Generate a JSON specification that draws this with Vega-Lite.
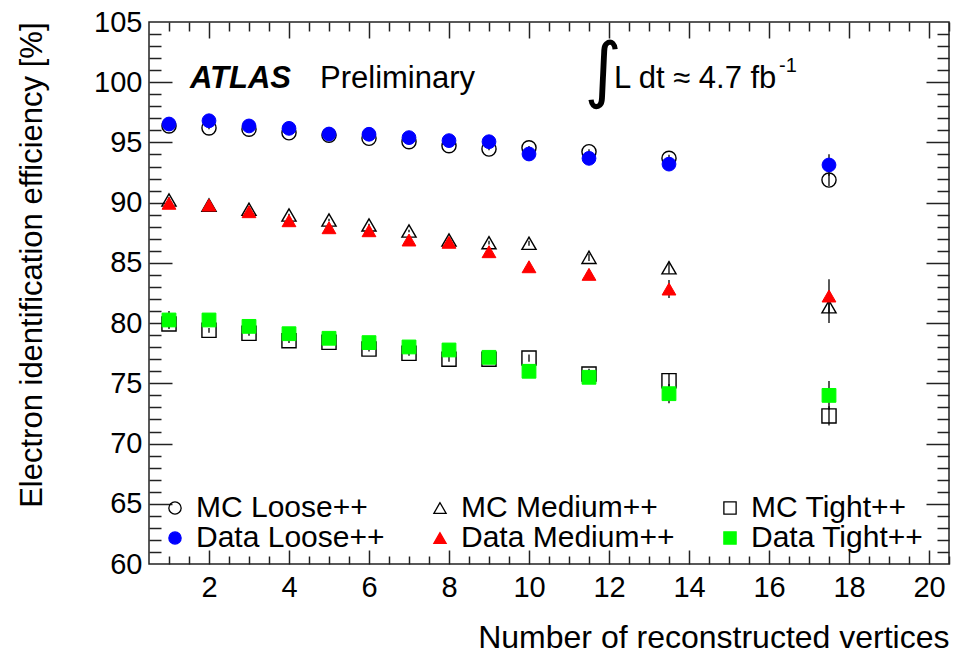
{
  "$schema": "https://vega.github.io/schema/vega-lite/v6.json",
  "width": 800,
  "height": 542,
  "autosize": "none",
  "padding": {"left": 149, "top": 22, "right": 12, "bottom": 93},
  "background": "white",
  "config": {
    "view": {"stroke": "#222", "strokeWidth": 1.5},
    "axis": {"grid": false, "domain": false, "tickColor": "#222", "tickWidth": 1.5, "labelFont": "Liberation Sans", "titleFont": "Liberation Sans", "labelColor": "black", "titleColor": "black", "titleFontWeight": "normal", "labelFlush": false, "labelOverlap": false},
    "legend": {"labelFont": "Liberation Sans"},
    "text": {"font": "Liberation Sans", "color": "black"}
  },
  "data": {"values": [
    {"x": 1, "series": "MC Loose++", "v": 96.37, "err": 0.1},
    {"x": 2, "series": "MC Loose++", "v": 96.2, "err": 0.1},
    {"x": 3, "series": "MC Loose++", "v": 96.1, "err": 0.1},
    {"x": 4, "series": "MC Loose++", "v": 95.8, "err": 0.1},
    {"x": 5, "series": "MC Loose++", "v": 95.6, "err": 0.1},
    {"x": 6, "series": "MC Loose++", "v": 95.34, "err": 0.1},
    {"x": 7, "series": "MC Loose++", "v": 95.06, "err": 0.1},
    {"x": 8, "series": "MC Loose++", "v": 94.73, "err": 0.1},
    {"x": 9, "series": "MC Loose++", "v": 94.45, "err": 0.1},
    {"x": 10, "series": "MC Loose++", "v": 94.55, "err": 0.15},
    {"x": 11.5, "series": "MC Loose++", "v": 94.23, "err": 0.2},
    {"x": 13.5, "series": "MC Loose++", "v": 93.68, "err": 0.3},
    {"x": 17.5, "series": "MC Loose++", "v": 91.88, "err": 0.5},
    {"x": 1, "series": "MC Medium++", "v": 90.22, "err": 0.2},
    {"x": 2, "series": "MC Medium++", "v": 89.8, "err": 0.1},
    {"x": 3, "series": "MC Medium++", "v": 89.45, "err": 0.1},
    {"x": 4, "series": "MC Medium++", "v": 88.98, "err": 0.1},
    {"x": 5, "series": "MC Medium++", "v": 88.56, "err": 0.1},
    {"x": 6, "series": "MC Medium++", "v": 88.15, "err": 0.1},
    {"x": 7, "series": "MC Medium++", "v": 87.65, "err": 0.1},
    {"x": 8, "series": "MC Medium++", "v": 86.9, "err": 0.1},
    {"x": 9, "series": "MC Medium++", "v": 86.68, "err": 0.15},
    {"x": 10, "series": "MC Medium++", "v": 86.63, "err": 0.2},
    {"x": 11.5, "series": "MC Medium++", "v": 85.46, "err": 0.3},
    {"x": 13.5, "series": "MC Medium++", "v": 84.6, "err": 0.5},
    {"x": 17.5, "series": "MC Medium++", "v": 81.36, "err": 1.35},
    {"x": 1, "series": "MC Tight++", "v": 79.93, "err": 0.3},
    {"x": 2, "series": "MC Tight++", "v": 79.4, "err": 0.2},
    {"x": 3, "series": "MC Tight++", "v": 79.15, "err": 0.2},
    {"x": 4, "series": "MC Tight++", "v": 78.54, "err": 0.2},
    {"x": 5, "series": "MC Tight++", "v": 78.41, "err": 0.2},
    {"x": 6, "series": "MC Tight++", "v": 77.85, "err": 0.2},
    {"x": 7, "series": "MC Tight++", "v": 77.49, "err": 0.2},
    {"x": 8, "series": "MC Tight++", "v": 77.0, "err": 0.2},
    {"x": 9, "series": "MC Tight++", "v": 77.0, "err": 0.2},
    {"x": 10, "series": "MC Tight++", "v": 77.1, "err": 0.3},
    {"x": 11.5, "series": "MC Tight++", "v": 75.77, "err": 0.45},
    {"x": 13.5, "series": "MC Tight++", "v": 75.22, "err": 0.6},
    {"x": 17.5, "series": "MC Tight++", "v": 72.29, "err": 0.8},
    {"x": 1, "series": "Data Loose++", "v": 96.53, "err": 0.1},
    {"x": 2, "series": "Data Loose++", "v": 96.8, "err": 0.1},
    {"x": 3, "series": "Data Loose++", "v": 96.37, "err": 0.1},
    {"x": 4, "series": "Data Loose++", "v": 96.17, "err": 0.1},
    {"x": 5, "series": "Data Loose++", "v": 95.7, "err": 0.1},
    {"x": 6, "series": "Data Loose++", "v": 95.68, "err": 0.1},
    {"x": 7, "series": "Data Loose++", "v": 95.4, "err": 0.1},
    {"x": 8, "series": "Data Loose++", "v": 95.15, "err": 0.1},
    {"x": 9, "series": "Data Loose++", "v": 95.06, "err": 0.15},
    {"x": 10, "series": "Data Loose++", "v": 94.04, "err": 0.2},
    {"x": 11.5, "series": "Data Loose++", "v": 93.68, "err": 0.25},
    {"x": 13.5, "series": "Data Loose++", "v": 93.2, "err": 0.4},
    {"x": 17.5, "series": "Data Loose++", "v": 93.13, "err": 0.9},
    {"x": 1, "series": "Data Medium++", "v": 89.95, "err": 0.45},
    {"x": 2, "series": "Data Medium++", "v": 89.8, "err": 0.2},
    {"x": 3, "series": "Data Medium++", "v": 89.25, "err": 0.2},
    {"x": 4, "series": "Data Medium++", "v": 88.5, "err": 0.2},
    {"x": 5, "series": "Data Medium++", "v": 87.92, "err": 0.2},
    {"x": 6, "series": "Data Medium++", "v": 87.67, "err": 0.2},
    {"x": 7, "series": "Data Medium++", "v": 86.9, "err": 0.2},
    {"x": 8, "series": "Data Medium++", "v": 86.71, "err": 0.3},
    {"x": 9, "series": "Data Medium++", "v": 85.93, "err": 0.3},
    {"x": 10, "series": "Data Medium++", "v": 84.68, "err": 0.4},
    {"x": 11.5, "series": "Data Medium++", "v": 84.05, "err": 0.45},
    {"x": 13.5, "series": "Data Medium++", "v": 82.83, "err": 0.75},
    {"x": 17.5, "series": "Data Medium++", "v": 82.25, "err": 1.4},
    {"x": 1, "series": "Data Tight++", "v": 80.26, "err": 0.75},
    {"x": 2, "series": "Data Tight++", "v": 80.26, "err": 0.3},
    {"x": 3, "series": "Data Tight++", "v": 79.73, "err": 0.3},
    {"x": 4, "series": "Data Tight++", "v": 79.12, "err": 0.3},
    {"x": 5, "series": "Data Tight++", "v": 78.74, "err": 0.3},
    {"x": 6, "series": "Data Tight++", "v": 78.38, "err": 0.3},
    {"x": 7, "series": "Data Tight++", "v": 78.02, "err": 0.3},
    {"x": 8, "series": "Data Tight++", "v": 77.77, "err": 0.3},
    {"x": 9, "series": "Data Tight++", "v": 77.16, "err": 0.35},
    {"x": 10, "series": "Data Tight++", "v": 76.0, "err": 0.5},
    {"x": 11.5, "series": "Data Tight++", "v": 75.5, "err": 0.5},
    {"x": 13.5, "series": "Data Tight++", "v": 74.14, "err": 0.8},
    {"x": 17.5, "series": "Data Tight++", "v": 74.0, "err": 1.2}
  ]},
  "resolve": {"axis": {"x": "independent", "y": "independent"}},
  "layer": [
    {
      "mark": {"type": "errorbar", "rule": {"color": "black", "strokeWidth": 1.3}},
      "encoding": {
        "x": {"field": "x", "type": "quantitative", "scale": {"domain": [0.5, 20.5], "nice": false, "zero": false}, "axis": null},
        "y": {"field": "v", "type": "quantitative", "scale": {"domain": [60, 105], "nice": false, "zero": false}, "axis": null},
        "yError": {"field": "err"}
      }
    },
    {
      "transform": [{"filter": "indexof(datum.series, 'MC') === 0"}],
      "mark": {"type": "point", "opacity": 1, "strokeWidth": 1.4, "size": 200},
      "encoding": {
        "x": {"field": "x", "type": "quantitative", "scale": {"domain": [0.5, 20.5], "nice": false, "zero": false},
          "axis": {"orient": "bottom", "ticks": false, "values": [2, 4, 6, 8, 10, 12, 14, 16, 18, 20], "labelFontSize": 29, "labelPadding": 9, "title": "Number of reconstructed vertices", "titleFontSize": 32, "titleAnchor": "end", "titlePadding": 20}},
        "y": {"field": "v", "type": "quantitative", "scale": {"domain": [60, 105], "nice": false, "zero": false},
          "axis": {"orient": "left", "ticks": false, "values": [60, 65, 70, 75, 80, 85, 90, 95, 100, 105], "labelFontSize": 29, "labelPadding": 7, "title": "Electron identification efficiency [%]", "titleFontSize": 31, "titleAnchor": "end", "titlePadding": 45}},
        "shape": {"field": "series", "type": "nominal", "scale": {"domain": ["MC Loose++", "Data Loose++", "MC Medium++", "Data Medium++", "MC Tight++", "Data Tight++"], "range": ["circle", "circle", "triangle-up", "triangle-up", "square", "square"]},
          "legend": {"title": null, "orient": "bottom-left", "columns": 3, "columnPadding": 40, "rowPadding": 0, "labelFontSize": 30, "labelOffset": 6, "symbolSize": 150, "symbolStrokeWidth": 1.3, "offset": 11, "padding": 0, "labelLimit": 400}},
        "fill": {"field": "series", "type": "nominal", "scale": {"domain": ["MC Loose++", "Data Loose++", "MC Medium++", "Data Medium++", "MC Tight++", "Data Tight++"], "range": ["transparent", "#0000ff", "transparent", "#ff0000", "transparent", "#00ff00"]}},
        "stroke": {"field": "series", "type": "nominal", "scale": {"domain": ["MC Loose++", "Data Loose++", "MC Medium++", "Data Medium++", "MC Tight++", "Data Tight++"], "range": ["black", "#0000ff", "black", "#ff0000", "black", "#00ff00"]}}
      }
    },
    {
      "transform": [{"filter": "indexof(datum.series, 'Data') === 0"}],
      "mark": {"type": "point", "opacity": 1, "strokeWidth": 1, "size": 190},
      "encoding": {
        "x": {"field": "x", "type": "quantitative", "scale": {"domain": [0.5, 20.5], "nice": false, "zero": false}, "axis": null},
        "y": {"field": "v", "type": "quantitative", "scale": {"domain": [60, 105], "nice": false, "zero": false}, "axis": null},
        "shape": {"field": "series", "type": "nominal"},
        "fill": {"field": "series", "type": "nominal"},
        "stroke": {"field": "series", "type": "nominal"}
      }
    },
    {
      "data": {"values": [{}]},
      "mark": {"type": "text", "text": "ATLAS", "fontSize": 31, "fontWeight": "bold", "fontStyle": "italic", "align": "left", "baseline": "alphabetic"},
      "encoding": {
        "x": {"datum": 1.525, "type": "quantitative", "scale": {"domain": [0.5, 20.5], "nice": false, "zero": false},
          "axis": {"orient": "bottom", "labels": false, "title": null, "tickSize": -14, "values": [2, 4, 6, 8, 10, 12, 14, 16, 18, 20]}},
        "y": {"datum": 99.52, "type": "quantitative", "scale": {"domain": [60, 105], "nice": false, "zero": false},
          "axis": {"orient": "left", "labels": false, "title": null, "tickSize": -23, "values": [65, 70, 75, 80, 85, 90, 95, 100]}}
      }
    },
    {
      "data": {"values": [{}]},
      "mark": {"type": "text", "text": "Preliminary", "fontSize": 31, "align": "left", "baseline": "alphabetic"},
      "encoding": {
        "x": {"datum": 4.775, "type": "quantitative", "scale": {"domain": [0.5, 20.5], "nice": false, "zero": false},
          "axis": {"orient": "bottom", "labels": false, "title": null, "tickSize": -8, "values": [1, 1.5, 2.5, 3, 3.5, 4.5, 5, 5.5, 6.5, 7, 7.5, 8.5, 9, 9.5, 10.5, 11, 11.5, 12.5, 13, 13.5, 14.5, 15, 15.5, 16.5, 17, 17.5, 18.5, 19, 19.5, 20.5]}},
        "y": {"datum": 99.52, "type": "quantitative", "scale": {"domain": [60, 105], "nice": false, "zero": false},
          "axis": {"orient": "left", "labels": false, "title": null, "tickSize": -12, "values": [61, 62, 63, 64, 66, 67, 68, 69, 71, 72, 73, 74, 76, 77, 78, 79, 81, 82, 83, 84, 86, 87, 88, 89, 91, 92, 93, 94, 96, 97, 98, 99, 101, 102, 103, 104]}}
      }
    },
    {
      "data": {"values": [{}]},
      "mark": {"type": "text", "text": "∫", "fontSize": 72, "font": "DejaVu Sans", "align": "center", "baseline": "middle"},
      "encoding": {
        "x": {"datum": 11.85, "type": "quantitative", "scale": {"domain": [0.5, 20.5], "nice": false, "zero": false},
          "axis": {"orient": "top", "labels": false, "title": null, "tickSize": -16, "values": [2, 4, 6, 8, 10, 12, 14, 16, 18, 20]}},
        "y": {"datum": 100.85, "type": "quantitative", "scale": {"domain": [60, 105], "nice": false, "zero": false},
          "axis": {"orient": "right", "labels": false, "title": null, "tickSize": -23, "values": [65, 70, 75, 80, 85, 90, 95, 100]}}
      }
    },
    {
      "data": {"values": [{}]},
      "mark": {"type": "text", "text": "L dt ≈ 4.7 fb", "fontSize": 31, "align": "left", "baseline": "alphabetic"},
      "encoding": {
        "x": {"datum": 12.125, "type": "quantitative", "scale": {"domain": [0.5, 20.5], "nice": false, "zero": false},
          "axis": {"orient": "top", "labels": false, "title": null, "tickSize": -9, "values": [1, 1.5, 2.5, 3, 3.5, 4.5, 5, 5.5, 6.5, 7, 7.5, 8.5, 9, 9.5, 10.5, 11, 11.5, 12.5, 13, 13.5, 14.5, 15, 15.5, 16.5, 17, 17.5, 18.5, 19, 19.5, 20.5]}},
        "y": {"datum": 99.52, "type": "quantitative", "scale": {"domain": [60, 105], "nice": false, "zero": false},
          "axis": {"orient": "right", "labels": false, "title": null, "tickSize": -12, "values": [61, 62, 63, 64, 66, 67, 68, 69, 71, 72, 73, 74, 76, 77, 78, 79, 81, 82, 83, 84, 86, 87, 88, 89, 91, 92, 93, 94, 96, 97, 98, 99, 101, 102, 103, 104]}}
      }
    },
    {
      "data": {"values": [{}]},
      "mark": {"type": "text", "text": "-1", "fontSize": 20, "align": "left", "baseline": "alphabetic"},
      "encoding": {
        "x": {"datum": 16.25, "type": "quantitative", "scale": {"domain": [0.5, 20.5], "nice": false, "zero": false}, "axis": null},
        "y": {"datum": 100.85, "type": "quantitative", "scale": {"domain": [60, 105], "nice": false, "zero": false}, "axis": null}
      }
    }
  ]
}
